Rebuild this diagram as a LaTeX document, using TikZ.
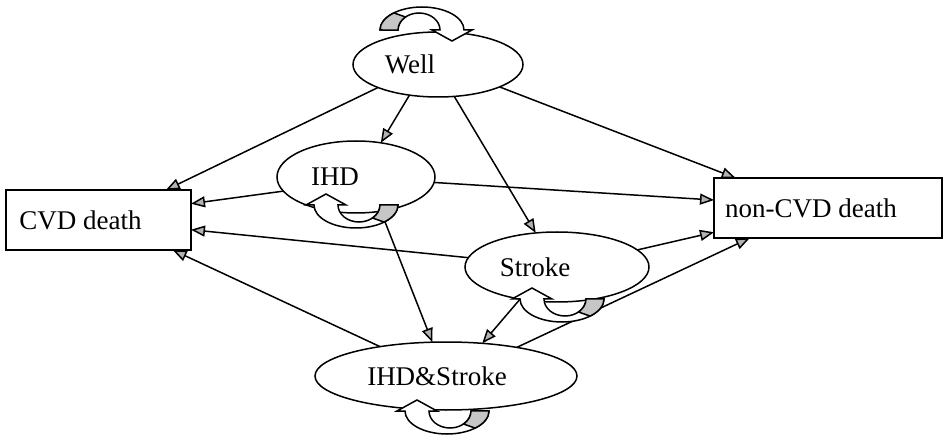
\documentclass[tikz,border=0pt]{standalone}
\usepackage{fontspec}
\setmainfont{Liberation Serif}
\usetikzlibrary{shapes.geometric,arrows.meta,calc}
\begin{document}
\begin{tikzpicture}[x=1pt,y=-1pt,
  lw/.style={line width=1.5pt},
  state/.style={ellipse,draw,lw,fill=white,inner sep=0pt,outer sep=0pt},
  endbox/.style={rectangle,draw,lw,fill=white,inner sep=0pt,outer sep=0pt},
  txt/.style={font=\fontsize{27}{30}\selectfont},
  edge/.style={draw,lw,-{Triangle[length=14pt,width=11pt,fill=gray!60]}},
  selfloop/.pic={
    \path[draw,fill=white] (42,0) arc[start angle=0,end angle=180,x radius=42,y radius=23]
      -- (-50,0) -- (-30,-11) -- (-10,0) -- (-18,0)
      arc[start angle=180,end angle=0,x radius=21,y radius=17] -- cycle;
    \path[draw,fill=gray!45] (42,0) arc[start angle=0,end angle=48,x radius=42,y radius=23]
      -- (16.5,13) arc[start angle=50,end angle=0,x radius=21,y radius=17] -- cycle;
  },
]
\useasboundingbox (0,0) rectangle (945,438);

\node[state,minimum width=170pt,minimum height=65pt,label={[txt,xshift=-28pt]center:Well}] (well) at (438,64.5) {};
\node[state,minimum width=158pt,minimum height=72pt,label={[txt,xshift=-21pt]center:IHD}] (ihd) at (356,177) {};
\node[state,minimum width=184pt,minimum height=70pt,label={[txt,xshift=-22pt]center:Stroke}] (stroke) at (557,267) {};
\node[state,minimum width=262pt,minimum height=68pt,label={[txt,xshift=-9pt]center:IHD\&Stroke}] (ihds) at (446,376) {};
\node[endbox,minimum width=185pt,minimum height=60pt,label={[txt,xshift=-18pt]center:CVD death}] (cvd) at (98.5,220) {};
\node[endbox,minimum width=228pt,minimum height=60pt,label={[txt,xshift=-17pt]center:non-CVD death}] (noncvd) at (828,208) {};

\draw[edge] (well.201) -- (cvd.24.9);
\draw[edge] (well.227.4) -- (ihd.54.8);
\draw[edge] (well.297.6) -- (stroke.122.2);
\draw[edge] (well.-20.4) -- (noncvd.162.3);
\draw[edge] (ihd.191.2) -- (cvd.10.3);
\draw[edge] (ihd.-4.3) -- (noncvd.176);
\draw[edge] (ihd.306.3) -- (ihds.112.4);
\draw[edge] (stroke.174.3) -- (cvd.-6.1);
\draw[edge] (stroke.12.5) -- (noncvd.192.5);
\draw[edge] (stroke.221.7) -- (ihds.42.6);
\draw[edge] (ihds.156.3) -- (cvd.-22.8);
\draw[edge] (ihds.22.1) -- (noncvd.201.8);

\pic[lw] at (356,205) {selfloop};
\pic[lw] at (562,299) {selfloop};
\pic[lw] at (447,411) {selfloop};
\pic[lw,rotate=180] at (422,30) {selfloop};
\end{tikzpicture}
\end{document}
